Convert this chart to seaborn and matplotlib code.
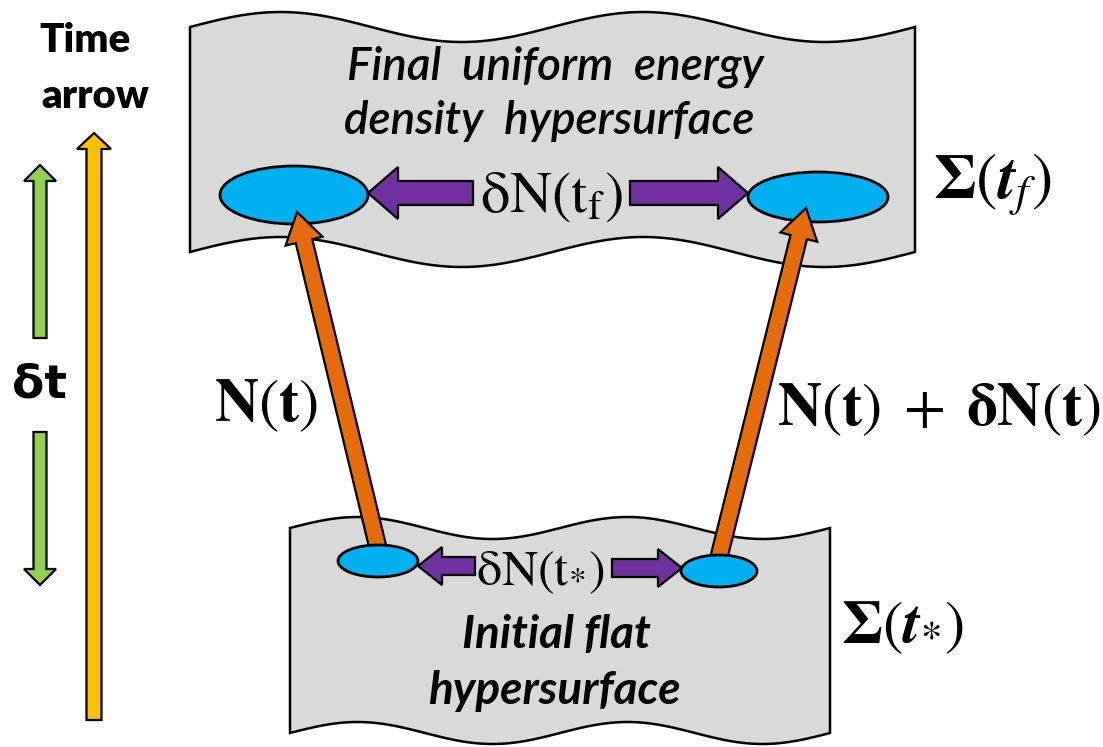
import numpy as np
import seaborn as sns
import matplotlib.pyplot as plt
from matplotlib import patches

# labels used in the diagram
time_label = ['Time', 'arrow']
dt_label = 'δt'
top_sheet_text = ['Final  uniform  energy', 'density  hypersurface']
bottom_sheet_text = ['Initial flat', 'hypersurface']
dN_top = r'$\mathrm{\delta N}(\mathrm{t}_\mathrm{f})$'
dN_bottom = r'$\mathrm{\delta N}(\mathrm{t}_{*})$'
left_path = r'$\mathbf{N}(\mathbf{t})$'
right_path = r'$\mathbf{N}(\mathbf{t})\;+\;\mathbf{\delta N}(\mathbf{t})$'
sigma_f = r'$\mathbf{\Sigma}(\mathbfit{t}_{\mathit{f}})$'
sigma_star = r'$\mathbf{\Sigma}(\mathbfit{t}_{*})$'

gray = '#d9d9d9'
blue = '#00b0f0'
purple = '#7030a0'
orange = '#e46c0a'
yellow = '#ffc000'
green = '#92d050'

sns.set_theme(style='white')
plt.rcParams['mathtext.fontset'] = 'stix'
plt.rcParams['font.family'] = ['Lato', 'DejaVu Sans']
plt.rcParams['text.color'] = 'black'

fig = plt.figure(figsize=(11.03, 7.47), dpi=100)
ax = fig.add_axes([0, 0, 1, 1])
ax.set_xlim(0, 1103)
ax.set_ylim(747, 0)
ax.axis('off')


def wave_sheet(x0, x1, ytop, ybot, amp, z=1):
    xs = np.linspace(x0, x1, 200)
    ph = 4 * np.pi * (xs - x0) / (x1 - x0)
    top = ytop - amp * np.sin(ph)
    bot = ybot - amp * np.sin(ph)
    pts = np.vstack([np.column_stack([xs, top]),
                     np.column_stack([xs[::-1], bot[::-1]])])
    ax.add_patch(patches.Polygon(pts, closed=True, fc=gray, ec='black',
                                 lw=1.8, zorder=z))


def arrow(x0, y0, x1, y1, w, hw, hl, color, z=3):
    ax.add_patch(patches.FancyArrow(x0, y0, x1 - x0, y1 - y0, width=w,
                                    head_width=hw, head_length=hl,
                                    length_includes_head=True, fc=color,
                                    ec='black', lw=1.6, zorder=z,
                                    joinstyle='miter'))


def blob(cx, cy, w, h, z=4):
    ax.add_patch(patches.Ellipse((cx, cy), w, h, fc=blue, ec='black',
                                 lw=2, zorder=z))


# hypersurfaces
wave_sheet(190, 915, 27, 252, 15)
wave_sheet(290, 830, 528, 733, 11)

# ellipses
blob(294, 195, 148, 58, z=2)
blob(818, 197, 140, 50, z=2)
blob(378, 561, 80, 32, z=5)
blob(719, 571, 76, 32, z=5)

# purple delta arrows
arrow(473, 193, 368, 193, 24, 52, 30, purple)
arrow(630, 193, 748, 193, 24, 52, 30, purple)
arrow(475, 566, 418, 566, 18, 38, 24, purple)
arrow(612, 568, 682, 568, 18, 38, 24, purple)

# orange trajectories
arrow(378, 548, 297, 212, 17, 38, 30, orange, z=4)
arrow(719, 557, 806, 208, 17, 38, 30, orange, z=4)

# time arrow and delta t
arrow(94, 720, 94, 133, 15, 34, 16, yellow)
arrow(40, 338, 40, 165, 13, 32, 16, green)
arrow(40, 432, 40, 585, 13, 32, 16, green)

# text
ax.text(85, 40, time_label[0], ha='center', va='center', fontsize=29,
        fontweight='heavy')
ax.text(95, 96, time_label[1], ha='center', va='center', fontsize=29,
        fontweight='heavy')
ax.text(40, 385, dt_label, ha='center', va='center', fontsize=34,
        fontweight='bold', fontfamily='DejaVu Sans')

ax.text(555, 67, top_sheet_text[0], ha='center', va='center', fontsize=33,
        style='italic', fontweight='semibold', zorder=6)
ax.text(549, 121, top_sheet_text[1], ha='center', va='center', fontsize=33,
        style='italic', fontweight='semibold', zorder=6)
ax.text(556, 635, bottom_sheet_text[0], ha='center', va='center',
        fontsize=33, style='italic', fontweight='bold', zorder=6)
ax.text(554, 691, bottom_sheet_text[1], ha='center', va='center',
        fontsize=33, style='italic', fontweight='bold', zorder=6)

ax.text(551, 197, dN_top, ha='center', va='center', fontsize=42, zorder=6)
ax.text(540, 573, dN_bottom, ha='center', va='center', fontsize=36, zorder=6)

ax.text(266, 405, left_path, ha='center', va='center', fontsize=44)
ax.text(939, 410, right_path, ha='center', va='center', fontsize=44)
ax.text(992, 185, sigma_f, ha='center', va='center', fontsize=46)
ax.text(902, 628, sigma_star, ha='center', va='center', fontsize=44)

fig.savefig('out.png', dpi=100)
